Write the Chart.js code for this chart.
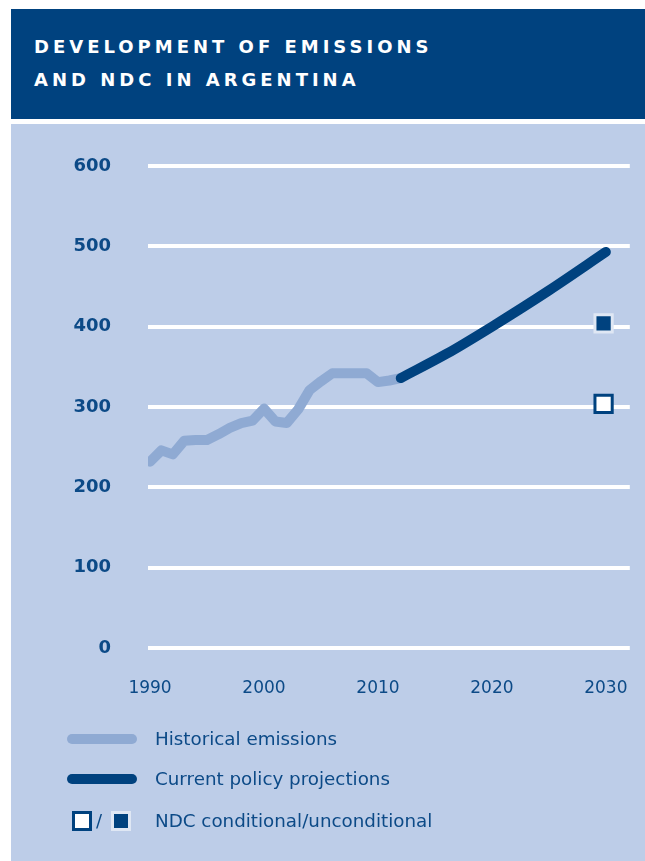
<!DOCTYPE html>
<html>
<head>
<meta charset="utf-8">
<script src="https://cdn.jsdelivr.net/npm/chart.js@4/dist/chart.umd.min.js"></script>
<style>
    body { margin: 0; background: #ffffff; font-family: "DejaVu Sans", Verdana, sans-serif; }
    #page { position: relative; width: 645px; height: 861px; overflow: hidden; }
    #header {
        position: absolute; left: 11px; top: 9px; width: 634px; height: 110px;
        background: #00427f; color: #ffffff;
    }
    #header .line {
        position: absolute; left: 23px; font-weight: bold; font-size: 18px;
        letter-spacing: 4px; white-space: nowrap;
    }
    #panel {
        position: absolute; left: 11px; top: 124px; width: 634px; height: 737px;
        background: #bdcde8;
    }
    #chart-wrap { position: absolute; left: 0; top: 0; width: 634px; height: 737px; }
    .legend-row { position: absolute; left: 0; height: 24px; width: 634px; }
    .legend-text {
        position: absolute; left: 144px; top: 0; line-height: 24px;
        font-size: 18.3px; color: #0c4a87; white-space: nowrap;
    }
    .swatch-line { position: absolute; left: 56px; top: 7px; width: 70px; height: 10px; border-radius: 5px; }
    .sq { position: absolute; top: 2px; width: 20px; height: 20px; box-sizing: border-box; }
</style>
</head>
<body>
<div id="page">
    <div id="header">
        <div class="line" style="top: 27px;">DEVELOPMENT OF EMISSIONS</div>
        <div class="line" style="top: 60px;">AND NDC IN ARGENTINA</div>
    </div>
    <div id="panel">
        <div id="chart-wrap"><canvas id="chart"></canvas></div>

        <div class="legend-row" style="top: 603px;">
            <div class="swatch-line" style="background: #8faad3;"></div>
            <div class="legend-text">Historical emissions</div>
        </div>
        <div class="legend-row" style="top: 643px;">
            <div class="swatch-line" style="background: #00427f;"></div>
            <div class="legend-text">Current policy projections</div>
        </div>
        <div class="legend-row" style="top: 685px;">
            <div class="sq" style="left: 61px; background: #ffffff; border: 3px solid #00427f;"></div>
            <div style="position: absolute; left: 85px; top: 0; line-height: 24px; font-size: 18px; color: #0c4a87;">/</div>
            <div class="sq" style="left: 100px; background: #00427f; border: 3px solid #dfe7f4;"></div>
            <div class="legend-text">NDC conditional/unconditional</div>
        </div>
    </div>
</div>

<script>
// Historical emissions (MtCO2e)
const histYears = [1990, 1991, 1992, 1993, 1994, 1995, 1996, 1997, 1998, 1999, 2000, 2001,
    2002, 2003, 2004, 2005, 2006, 2007, 2008, 2009, 2010, 2011, 2012];
const histValues = [232, 246, 241, 258, 259, 259, 266, 274, 280, 283, 298, 282,
    280, 297, 321, 332, 342, 342, 342, 342, 331, 333, 336];

// Current policy projections
const projYears = [2012, 2016, 2020, 2025, 2030];
const projValues = [336, 366, 400, 445, 493];

// NDC targets
const ndcYear = 2029.8;
const ndcConditional = 304;
const ndcUnconditional = 404;

// Axis ticks
const xTicks = [1990, 2000, 2010, 2020, 2030];
const yTicks = [0, 100, 200, 300, 400, 500, 600];

const toPoints = (xs, ys) => xs.map((x, i) => ({ x: x, y: ys[i] }));

const darkBlue = '#00427f';
const textBlue = '#0c4a87';

// Keep the big tick paddings from pushing the plot area inwards
function clearScalePadding(scale) {
    scale.paddingTop = 0;
    scale.paddingBottom = 0;
    scale.paddingLeft = 0;
    scale.paddingRight = 0;
}

new Chart(document.getElementById('chart'), {
    type: 'line',
    data: {
        datasets: [
            {
                label: 'NDC unconditional',
                data: [{ x: ndcYear, y: ndcUnconditional }],
                showLine: false,
                pointStyle: 'rect',
                pointRadius: 12.2,
                pointBackgroundColor: darkBlue,
                pointBorderColor: '#dfe7f4',
                pointBorderWidth: 3,
                order: 0
            },
            {
                label: 'NDC conditional',
                data: [{ x: ndcYear, y: ndcConditional }],
                showLine: false,
                pointStyle: 'rect',
                pointRadius: 12.2,
                pointBackgroundColor: '#ffffff',
                pointBorderColor: darkBlue,
                pointBorderWidth: 3,
                order: 0
            },
            {
                label: 'Current policy projections',
                data: toPoints(projYears, projValues),
                borderColor: darkBlue,
                borderWidth: 10,
                borderCapStyle: 'round',
                borderJoinStyle: 'round',
                cubicInterpolationMode: 'monotone',
                pointRadius: 0,
                order: 1
            },
            {
                label: 'Historical emissions',
                data: toPoints(histYears, histValues),
                borderColor: '#8faad3',
                borderWidth: 10,
                borderCapStyle: 'round',
                borderJoinStyle: 'round',
                tension: 0,
                pointRadius: 0,
                order: 2
            }
        ]
    },
    options: {
        responsive: true,
        maintainAspectRatio: false,
        animation: false,
        layout: {
            padding: { top: 42, right: 15, left: 0, bottom: 0 }
        },
        plugins: {
            legend: { display: false },
            tooltip: { enabled: false }
        },
        scales: {
            x: {
                type: 'linear',
                min: 1989.82,
                max: 2032.1,
                grid: { display: false, drawTicks: false },
                border: { display: false },
                afterBuildTicks: (scale) => {
                    scale.ticks = xTicks.map(v => ({ value: v }));
                },
                afterFit: (scale) => {
                    scale.height = 213;
                    clearScalePadding(scale);
                },
                ticks: {
                    padding: 30,
                    color: textBlue,
                    font: { family: '"DejaVu Sans", Verdana, sans-serif', size: 17 },
                    callback: (v) => String(v)
                }
            },
            y: {
                min: 0,
                max: 600,
                grid: { color: '#ffffff', lineWidth: 4, drawTicks: false },
                border: { display: false },
                afterBuildTicks: (scale) => {
                    scale.ticks = yTicks.map(v => ({ value: v }));
                },
                afterFit: (scale) => {
                    scale.width = 137;
                    clearScalePadding(scale);
                },
                ticks: {
                    padding: 37,
                    color: textBlue,
                    font: { family: '"DejaVu Sans", Verdana, sans-serif', size: 18, weight: 'bold' }
                }
            }
        }
    }
});
</script>
</body>
</html>
